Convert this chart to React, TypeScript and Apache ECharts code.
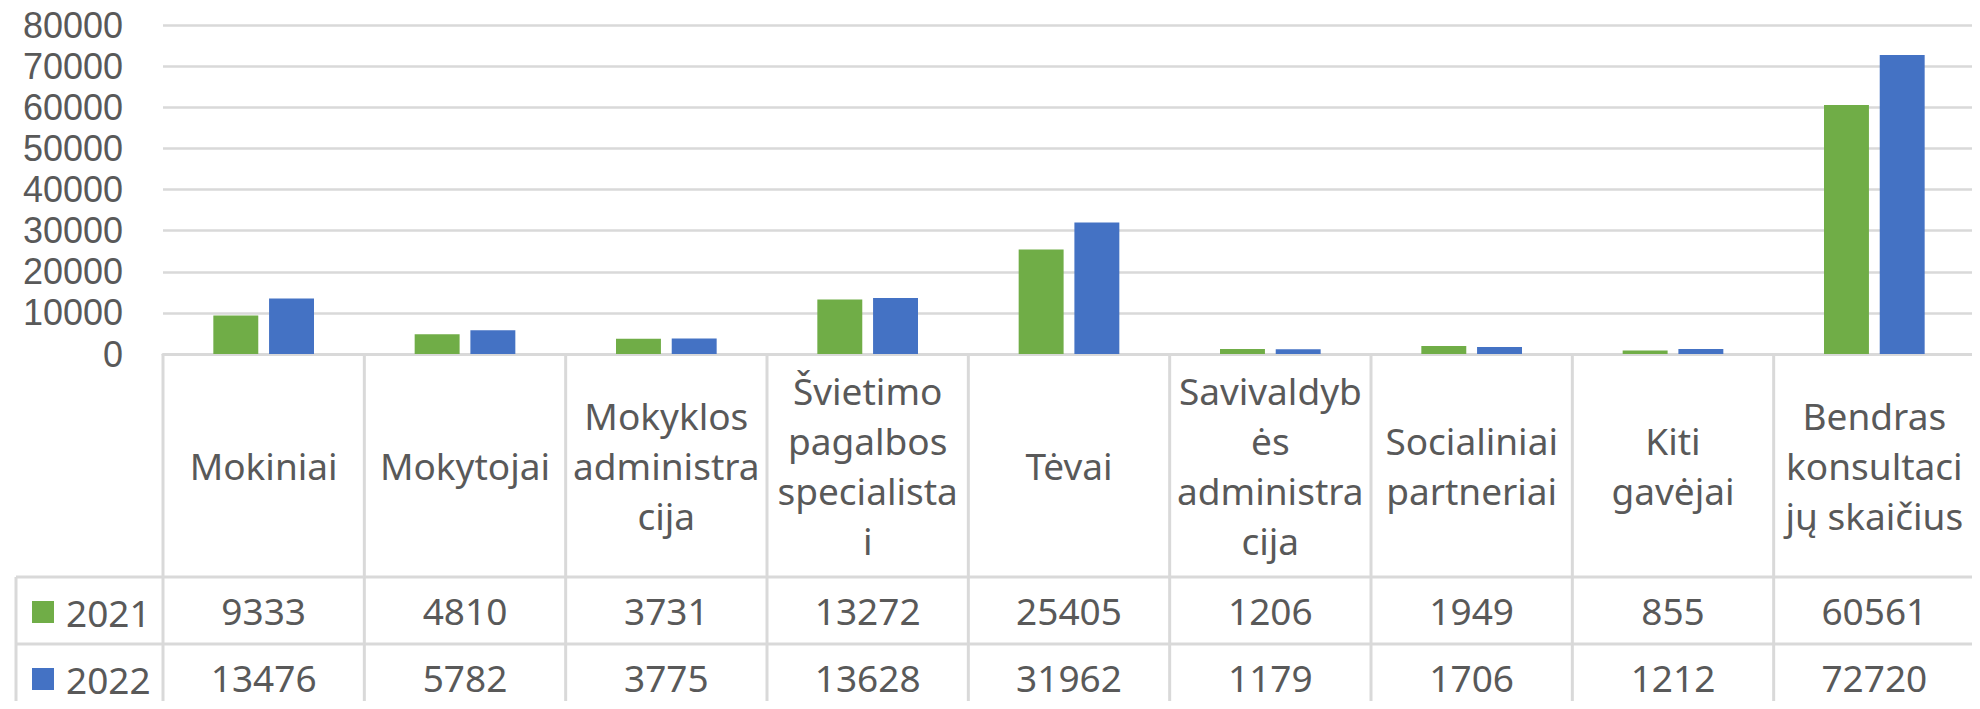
import React, { useEffect, useRef } from "react";
import * as echarts from "echarts";

const categories = [
  "Mokiniai",
  "Mokytojai",
  "Mokyklos\nadministra\ncija",
  "Švietimo\npagalbos\nspecialista\ni",
  "Tėvai",
  "Savivaldyb\nės\nadministra\ncija",
  "Socialiniai\npartneriai",
  "Kiti\ngavėjai",
  "Bendras\nkonsultaci\njų skaičius",
];
const seriesNames = ["2021", "2022"];
const values2021 = [9333, 4810, 3731, 13272, 25405, 1206, 1949, 855, 60561];
const values2022 = [13476, 5782, 3775, 13628, 31962, 1179, 1706, 1212, 72720];
const colors = ["#70ad47", "#4472c4"];
const yTicks = { min: 0, max: 80000, interval: 10000 };

const FONT = "Noto Sans";
const TEXT_COLOR = "#595959";
const LINE_COLOR = "#d9d9d9";
const FONT_SIZE = 37;
const HEADER_H = 223;
const ROW_H = 67;
const LEGEND_COL_W = 147;

export default function App() {
  const ref = useRef<HTMLDivElement>(null);
  useEffect(() => {
    if (!ref.current) return;
    const chart = echarts.init(ref.current, null, { renderer: "svg" });
    const rows = [values2021, values2022];
    const legendBase = {
      orient: "horizontal",
      left: 27,
      itemWidth: 22,
      itemHeight: 22,
      icon: "rect",
      selectedMode: false,
      textStyle: {
        fontFamily: FONT,
        fontSize: FONT_SIZE,
        color: TEXT_COLOR,
        padding: [0, 0, 0, 7],
      },
    };
    const option: any = {
      animation: false,
      backgroundColor: "#ffffff",
      textStyle: { fontFamily: FONT },
      grid: { left: 163, right: 5, top: 25, bottom: 355, containLabel: false },
      legend: seriesNames.map((name, k) => ({
        ...legendBase,
        data: [name],
        top: 577 + k * ROW_H + ROW_H / 2 - 22,
      })),
      xAxis: {
        type: "category",
        data: categories,
        axisLine: { show: true, lineStyle: { color: LINE_COLOR, width: 3 } },
        axisTick: { show: false },
        axisLabel: { show: false },
        splitLine: { show: false },
      },
      yAxis: {
        type: "value",
        min: yTicks.min,
        max: yTicks.max,
        interval: yTicks.interval,
        axisLine: { show: false },
        axisTick: { show: false },
        axisLabel: {
          margin: 40,
          fontFamily: "Liberation Sans",
          fontSize: 36,
          lineHeight: 38,
          color: TEXT_COLOR,
          formatter: (v: number) => String(v),
        },
        splitLine: { lineStyle: { color: LINE_COLOR, width: 2.5 } },
      },
      series: [
        {
          name: seriesNames[0],
          type: "bar",
          data: values2021,
          itemStyle: { color: colors[0] },
          barGap: "24%",
          barCategoryGap: "50%",
        },
        {
          name: seriesNames[1],
          type: "bar",
          data: values2022,
          itemStyle: { color: colors[1] },
          barGap: "24%",
          barCategoryGap: "50%",
        },
        {
          type: "custom",
          name: "table",
          clip: false,
          z: 10,
          data: categories.map((_, i) => [i, 0]),
          encode: { x: 0, y: 1 },
          renderItem: (params: any, api: any) => {
            const i = api.value(0);
            const [cx, y0] = api.coord([i, 0]);
            const w = api.size([1, 0])[0];
            const xl = cx - w / 2;
            const xr = cx + w / 2;
            const yH = y0 + HEADER_H;
            const y1 = yH + ROW_H;
            const yB = y1 + ROW_H;
            const ls = { stroke: LINE_COLOR, lineWidth: 3 };
            const line = (x1: number, ya: number, x2: number, yb: number) => ({
              type: "line",
              shape: { x1, y1: ya, x2, y2: yb },
              style: ls,
            });
            const txt = (text: string, x: number, y: number) => ({
              type: "text",
              style: {
                text,
                x,
                y,
                align: "center",
                verticalAlign: "middle",
                fontFamily: FONT,
                fontSize: FONT_SIZE,
                lineHeight: 50,
                fill: TEXT_COLOR,
              },
            });
            const children: any[] = [
              line(xl, y0, xl, yB),
              line(xl, yH, xr, yH),
              line(xl, y1, xr, y1),
              line(xl, yB, xr, yB),
              txt(categories[i], cx, y0 + HEADER_H / 2),
              txt(String(rows[0][i]), cx, yH + ROW_H / 2),
              txt(String(rows[1][i]), cx, y1 + ROW_H / 2),
            ];
            if (i === categories.length - 1) children.push(line(xr, y0, xr, yB));
            if (i === 0) {
              const xL = xl - LEGEND_COL_W;
              children.push(line(xL, yH, xl, yH));
              children.push(line(xL, y1, xl, y1));
              children.push(line(xL, yB, xl, yB));
              children.push(line(xL, yH, xL, yB));
            }
            return { type: "group", children };
          },
        },
      ],
    };
    chart.setOption(option);
    return () => chart.dispose();
  }, []);
  return <div ref={ref} style={{ width: 1980, height: 709, margin: -8 }} />;
}
